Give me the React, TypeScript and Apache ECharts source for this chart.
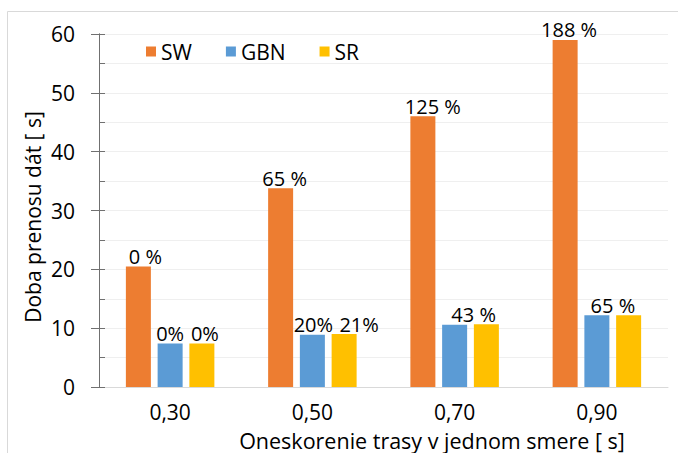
import React, { useEffect, useRef } from "react";
import * as echarts from "echarts";

const categories = ["0,30", "0,50", "0,70", "0,90"];
const seriesNames = ["SW", "GBN", "SR"];
const swValues = [20.5, 33.8, 46.0, 59.0];
const gbnValues = [7.4, 8.9, 10.6, 12.2];
const srValues = [7.4, 9.0, 10.65, 12.2];
const swLabels = ["0 %", "65 %", "125 %", "188 %"];
const gbnLabels = ["0%", "20%", "43 %", "65 %"];
const srLabels = ["0%", "21%", "", ""];
const yTicks = [0, 10, 20, 30, 40, 50, 60];

// layout-only: horizontal nudges of the data labels (px)
const swShift = [7, 4, 10, 4];
const gbnShift = [0, 1, 19, 16];
const srShift = [3, 15, 0, 0];

const FONT = "'Open Sans', sans-serif";
const FS = 21;
const colors = ["#ED7D31", "#5B9BD5", "#FFC000"];

function makeSeries(name: string, values: number[], labels: string[], shifts: number[], color: string) {
  return {
    name,
    type: "bar",
    yAxisIndex: 0,
    barWidth: 25,
    barGap: "27%",
    itemStyle: { color },
    data: values.map((v, i) => ({
      value: v,
      label: {
        show: labels[i] !== "",
        position: "top",
        distance: 0,
        offset: [shifts[i], 0],
        formatter: labels[i],
        fontFamily: FONT,
        fontSize: 20,
        color: "#000",
      },
    })),
  };
}

export default function App() {
  const ref = useRef<HTMLDivElement>(null);
  useEffect(() => {
    if (!ref.current) return;
    const chart = echarts.init(ref.current, null, { renderer: "svg" });
    chart.setOption({
      animation: false,
      backgroundColor: "#fff",
      textStyle: { fontFamily: FONT },
      legend: {
        left: 141,
        top: 36,
        itemWidth: 10,
        itemHeight: 10,
        itemGap: 34,
        icon: "rect",
        data: seriesNames,
        textStyle: { fontFamily: FONT, fontSize: FS, color: "#000" },
      },
      grid: { left: 99, right: 10, top: 34, bottom: 66 },
      xAxis: {
        type: "category",
        data: categories,
        axisLine: { lineStyle: { color: "#d9d9d9", width: 1 } },
        axisTick: { show: false },
        axisLabel: { fontFamily: FONT, fontSize: FS, lineHeight: 20, color: "#000", margin: 15 },
      },
      yAxis: [
        {
          type: "value",
          position: "left",
          min: yTicks[0],
          max: yTicks[yTicks.length - 1],
          interval: yTicks[1] - yTicks[0],
          axisLine: { show: true, lineStyle: { color: "#707070" } },
          axisTick: { show: true, inside: false, length: 8, lineStyle: { color: "#707070" } },
          axisLabel: { fontFamily: FONT, fontSize: FS, color: "#000", margin: 24 },
          splitLine: { show: false },
        },
        {
          type: "value",
          position: "left",
          min: yTicks[0],
          max: yTicks[yTicks.length - 1],
          interval: (yTicks[1] - yTicks[0]) / 2,
          axisLine: { show: true, lineStyle: { color: "#707070" } },
          axisTick: { show: true, inside: true, length: 6, lineStyle: { color: "#707070" } },
          axisLabel: { show: false },
          splitLine: { show: true, lineStyle: { color: "#efefef", width: 1 } },
        },
      ],
      graphic: [
        {
          type: "rect",
          silent: true,
          z: -10,
          shape: { x: 7.5, y: 11.5, width: 720, height: 500 },
          style: { fill: "none", stroke: "#d9d9d9", lineWidth: 1 },
        },
        {
          type: "text",
          x: 33,
          y: 217,
          rotation: Math.PI / 2,
          style: {
            text: "Doba prenosu dát [ s]",
            fontFamily: FONT,
            fontSize: FS,
            fill: "#000",
            textAlign: "center",
            textVerticalAlign: "middle",
          },
        },
        {
          type: "text",
          x: 432,
          y: 440,
          style: {
            text: "Oneskorenie trasy v jednom smere [ s]",
            fontFamily: FONT,
            fontSize: 21.5,
            lineHeight: 21,
            fill: "#000",
            textAlign: "center",
            textVerticalAlign: "middle",
          },
        },
      ],
      series: [
        makeSeries(seriesNames[0], swValues, swLabels, swShift, colors[0]),
        makeSeries(seriesNames[1], gbnValues, gbnLabels, gbnShift, colors[1]),
        makeSeries(seriesNames[2], srValues, srLabels, srShift, colors[2]),
      ],
    });
    return () => chart.dispose();
  }, []);
  return (
    <div
      ref={ref}
      style={{ position: "fixed", left: 0, top: 0, width: 678, height: 453 }}
    />
  );
}
